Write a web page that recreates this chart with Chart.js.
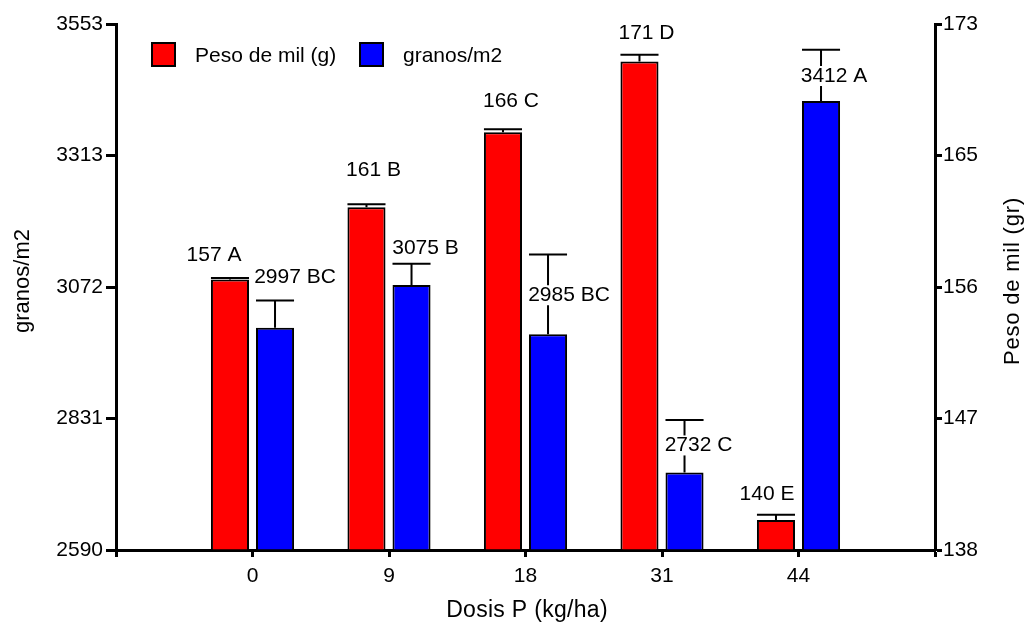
<!DOCTYPE html>
<html>
<head>
<meta charset="utf-8">
<script src="https://cdn.jsdelivr.net/npm/chart.js@4.4.1/dist/chart.umd.min.js"></script>
<style>
html,body{margin:0;padding:0;background:#fff}
#wrap{width:1027px;height:623px;position:relative}
</style>
</head>
<body>
<div id="wrap"><canvas id="grafico"></canvas></div>
<script>
// datos
const dosis = ['0', '9', '18', '31', '44'];
const pesoMil = [156.0, 160.8, 165.8, 170.5, 140.0];
const pesoErr = [0.1, 0.2, 0.2, 0.45, 0.35];
const pesoTxt = ['157 A', '161 B', '166 C', '171 D', '140 E'];
const granos = [2997, 3075, 2985, 2732, 3412];
const granosErr = [50, 39, 146, 96, 94];
const granosTxt = ['2997 BC', '3075 B', '2985 BC', '2732 C', '3412 A'];
const granosTicks = [2590, 2831, 3072, 3313, 3553];
const pesoTicks = [138, 147, 156, 165, 173];

// desplazamiento de las etiquetas respecto al tope de cada barra (px)
const nudgeRojo = [[-16, -24], [7, -37], [8, -31], [7, -28], [-9, -26]];
const nudgeAzul = [[20, -50], [14, -37], [21, -39], [14, -27], [13, -25]];

const FUENTE = "'Liberation Sans', Arial, sans-serif";
const fnt = (s) => ({ family: FUENTE, size: s });

function ticksParejos(lista){
  return (scale)=>{
    const min = lista[0], max = lista[lista.length-1];
    scale.ticks = lista.map((t, i)=>({ value: min + i*(max-min)/(lista.length-1) }));
  };
}

function texto(ctx, str, x, y, size, rot, spacing){
  ctx.save();
  ctx.translate(x, y);
  if(rot) ctx.rotate(rot);
  ctx.font = size + 'px ' + FUENTE;
  ctx.fillStyle = '#000';
  ctx.textAlign = 'center';
  ctx.textBaseline = 'middle';
  if(spacing) ctx.letterSpacing = spacing + 'px';
  ctx.fillText(str, 0, 0);
  ctx.restore();
}

const extras = {
  id: 'extras',
  afterDatasetsDraw(chart){
    const ctx = chart.ctx;
    const series = [
      { vals: pesoMil, err: pesoErr, txt: pesoTxt, nudge: nudgeRojo, eje: 'y1' },
      { vals: granos, err: granosErr, txt: granosTxt, nudge: nudgeAzul, eje: 'y' }
    ];
    // barras de error
    series.forEach((s, di)=>{
      const meta = chart.getDatasetMeta(di);
      const sc = chart.scales[s.eje];
      meta.data.forEach((bar, i)=>{
        const top = sc.getPixelForValue(s.vals[i]);
        const cap = sc.getPixelForValue(s.vals[i] + s.err[i]);
        const w = bar.width/2;
        ctx.save();
        ctx.strokeStyle = '#000';
        ctx.lineWidth = 2;
        ctx.beginPath();
        ctx.moveTo(bar.x, top);
        ctx.lineTo(bar.x, cap);
        ctx.moveTo(bar.x - w, cap);
        ctx.lineTo(bar.x + w, cap);
        ctx.stroke();
        ctx.restore();
      });
    });
    // etiquetas con fondo blanco
    series.forEach((s, di)=>{
      const meta = chart.getDatasetMeta(di);
      const sc = chart.scales[s.eje];
      meta.data.forEach((bar, i)=>{
        const top = sc.getPixelForValue(s.vals[i]);
        const x = bar.x + s.nudge[i][0], y = top + s.nudge[i][1];
        ctx.save();
        ctx.font = '21px ' + FUENTE;
        const tw = ctx.measureText(s.txt[i]).width;
        ctx.fillStyle = '#fff';
        ctx.fillRect(x - tw/2 - 2, y - 10, tw + 4, 20);
        ctx.restore();
        texto(ctx, s.txt[i], x, y, 21);
      });
    });
  },
  afterDraw(chart){
    const ctx = chart.ctx;
    // leyenda
    const items = [
      { col: '#ff0000', txt: 'Peso de mil (g)', x: 152 },
      { col: '#0000ff', txt: 'granos/m2', x: 360 }
    ];
    items.forEach(it=>{
      ctx.save();
      ctx.fillStyle = it.col;
      ctx.fillRect(it.x, 43, 23, 23);
      ctx.strokeStyle = '#000';
      ctx.lineWidth = 2;
      ctx.strokeRect(it.x, 43, 23, 23);
      ctx.font = '21px ' + FUENTE;
      ctx.fillStyle = '#000';
      ctx.textAlign = 'left';
      ctx.textBaseline = 'middle';
      ctx.fillText(it.txt, it.x + 43, 56);
      ctx.restore();
    });
    // titulos de ejes
    texto(ctx, 'granos/m2', 23, 281, 22, -Math.PI/2);
    texto(ctx, 'Peso de mil (gr)', 1013, 281, 22, -Math.PI/2, 0.8);
    texto(ctx, 'Dosis P (kg/ha)', 527, 611, 23, 0, 0.3);
  }
};

new Chart(document.getElementById('grafico').getContext('2d'), {
  type: 'bar',
  data: {
    labels: ['', ...dosis, ''],
    datasets: [
      {
        label: 'Peso de mil (g)',
        data: dosis.map((d, i)=>({ x: d, y: pesoMil[i] })),
        yAxisID: 'y1',
        base: pesoTicks[0],
        backgroundColor: '#ff0000',
        borderColor: '#000',
        borderWidth: 2
      },
      {
        label: 'granos/m2',
        data: dosis.map((d, i)=>({ x: d, y: granos[i] })),
        yAxisID: 'y',
        base: granosTicks[0],
        backgroundColor: '#0000ff',
        borderColor: '#000',
        borderWidth: 2
      }
    ]
  },
  options: {
    responsive: true,
    maintainAspectRatio: false,
    animation: false,
    categoryPercentage: 0.66,
    barPercentage: 0.845,
    layout: { padding: { top: 24 } },
    plugins: { legend: { display: false }, tooltip: { enabled: false } },
    scales: {
      x: {
        offset: false,
        grid: { offset: false, drawOnChartArea: false, drawTicks: true, tickLength: 7, tickWidth: 3, tickColor: '#000' },
        border: { display: true, width: 3, color: '#000' },
        ticks: { font: fnt(21), color: '#000', padding: 7, autoSkip: false, maxRotation: 0 },
        afterFit: (s)=>{ s.height = 73; }
      },
      y: {
        position: 'left',
        min: granosTicks[0],
        max: granosTicks[granosTicks.length-1],
        afterBuildTicks: ticksParejos(granosTicks),
        grid: { drawOnChartArea: false, drawTicks: true, tickLength: 10, tickWidth: 3, tickColor: '#000' },
        border: { display: true, width: 3, color: '#000' },
        ticks: { font: fnt(21), color: '#000', padding: 3, callback: (v, i)=>granosTicks[i] },
        afterFit: (s)=>{ s.width = 116; }
      },
      y1: {
        position: 'right',
        min: pesoTicks[0],
        max: pesoTicks[pesoTicks.length-1],
        afterBuildTicks: ticksParejos(pesoTicks),
        grid: { drawOnChartArea: false, drawTicks: true, tickLength: 7, tickWidth: 3, tickColor: '#000' },
        border: { display: true, width: 3, color: '#000' },
        ticks: { font: fnt(21), color: '#000', padding: 1, callback: (v, i)=>pesoTicks[i] },
        afterFit: (s)=>{ s.width = 92; }
      }
    }
  },
  plugins: [extras]
});
</script>
</body>
</html>
